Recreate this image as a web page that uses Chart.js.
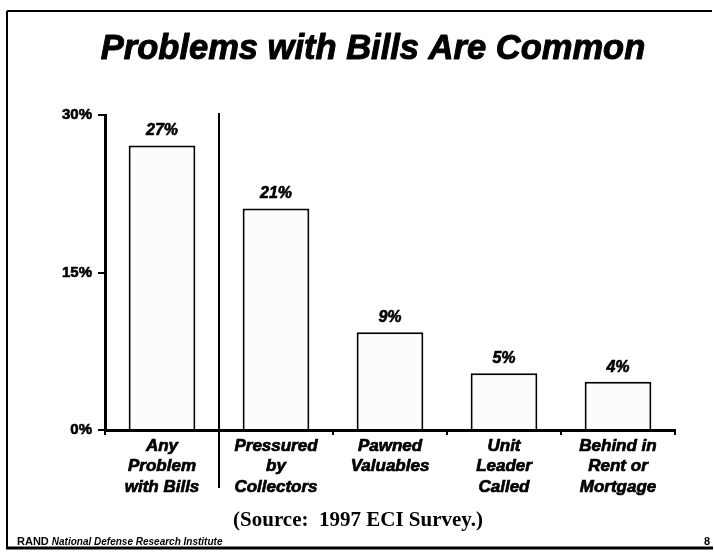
<!DOCTYPE html>
<html>
<head>
<meta charset="utf-8">
<script src="https://cdn.jsdelivr.net/npm/chart.js@4/dist/chart.umd.min.js"></script>
<style>
  html, body { margin: 0; padding: 0; background: #fff; }
  #wrap { position: relative; width: 714px; height: 556px; }
</style>
</head>
<body>
<div id="wrap"><canvas id="c" width="714" height="556"></canvas></div>
<script>
// ---- data ----
const categories = [
  ["Any", "Problem", "with Bills"],
  ["Pressured", "by", "Collectors"],
  ["Pawned", "Valuables"],
  ["Unit", "Leader", "Called"],
  ["Behind in", "Rent or", "Mortgage"]
];
const values = [27.1, 21.1, 9.3, 5.4, 4.6];
const valueLabels = ["27%", "21%", "9%", "5%", "4%"];
const yTickValues = [0, 15, 30];
const titleText = "Problems with Bills Are Common";
const sourceText = "(Source:  1997 ECI Survey.)";
const footerBold = "RAND";
const footerItalic = "National Defense Research Institute";
const pageNumber = "8";

const SANS = "'Liberation Sans', Arial, Helvetica, sans-serif";
const SERIF = "'Liberation Serif', 'Times New Roman', serif";

function heavyText(ctx, text, x, y, sw) {
  ctx.lineWidth = sw;
  ctx.lineJoin = 'round';
  ctx.strokeStyle = '#000';
  ctx.strokeText(text, x, y);
  ctx.fillText(text, x, y);
}

const decorPlugin = {
  id: 'decor',
  afterDraw(chart) {
    const ctx = chart.ctx;
    const xs = chart.scales.x;
    const area = chart.chartArea;
    ctx.save();
    // frame
    ctx.strokeStyle = '#000';
    ctx.lineWidth = 2;
    ctx.beginPath();
    ctx.moveTo(7, 11); ctx.lineTo(712, 11);
    ctx.moveTo(7, 11); ctx.lineTo(7, 548);
    ctx.stroke();
    ctx.lineWidth = 3;
    ctx.beginPath();
    ctx.moveTo(6, 548); ctx.lineTo(713, 548);
    ctx.stroke();
    // divider between first and other categories
    const dx = (xs.getPixelForValue(0) + xs.getPixelForValue(1)) / 2;
    ctx.lineWidth = 2;
    ctx.beginPath();
    ctx.moveTo(dx, area.top - 2);
    ctx.lineTo(dx, 488);
    ctx.stroke();
    // value labels
    const meta = chart.getDatasetMeta(0);
    ctx.fillStyle = '#000';
    ctx.textAlign = 'center';
    ctx.textBaseline = 'alphabetic';
    ctx.font = `italic bold 16px ${SANS}`;
    meta.data.forEach((bar, i) => {
      heavyText(ctx, valueLabels[i], bar.x, bar.y - 10, 0.6);
    });
    // title
    ctx.font = `italic bold 34.5px ${SANS}`;
    heavyText(ctx, titleText, 373, 59, 1.0);
    // source
    ctx.font = `bold 21px ${SERIF}`;
    ctx.fillText(sourceText, 358, 526);
    // footer
    ctx.textAlign = 'left';
    ctx.font = `bold 11px ${SANS}`;
    ctx.fillText(footerBold, 17, 545);
    const w = ctx.measureText(footerBold + ' ').width;
    ctx.font = `italic bold 10px ${SANS}`;
    ctx.fillText(footerItalic, 17 + w, 545);
    ctx.textAlign = 'right';
    ctx.font = `bold 11px ${SANS}`;
    ctx.fillText(pageNumber, 710, 545);
    ctx.restore();
  }
};

new Chart(document.getElementById('c'), {
  type: 'bar',
  data: {
    labels: categories,
    datasets: [{
      data: values,
      backgroundColor: '#fcfcfc',
      borderColor: '#000',
      borderWidth: 2,
      borderSkipped: 'bottom',
      barPercentage: 0.585,
      categoryPercentage: 1.0
    }]
  },
  options: {
    responsive: false,
    animation: false,
    devicePixelRatio: 1,
    layout: { padding: { left: 45, right: 39, top: 115, bottom: 36 } },
    plugins: {
      legend: { display: false },
      tooltip: { enabled: false },
      title: { display: false }
    },
    scales: {
      x: {
        afterFit(scale) { scale.height = 90; },
        grid: {
          display: true,
          offset: true,
          drawOnChartArea: false,
          drawTicks: true,
          tickLength: 5,
          color: '#000',
          lineWidth: 2
        },
        border: { display: true, color: '#000', width: 3 },
        ticks: {
          color: '#000',
          padding: 1,
          maxRotation: 0,
          autoSkip: false,
          textStrokeColor: '#000',
          textStrokeWidth: 0.7,
          font: { family: SANS, size: 17, weight: 'bold', style: 'italic', lineHeight: 1.2 }
        }
      },
      y: {
        min: 0,
        max: 30,
        afterFit(scale) { scale.width = 60; },
        afterBuildTicks(scale) { scale.ticks = yTickValues.map(v => ({ value: v })); },
        grid: {
          display: true,
          drawOnChartArea: false,
          drawTicks: true,
          tickLength: 7,
          color: '#000',
          lineWidth: 2
        },
        border: { display: true, color: '#000', width: 3 },
        ticks: {
          color: '#000',
          padding: 6,
          textStrokeColor: '#000',
          textStrokeWidth: 0.6,
          callback: v => v + '%',
          font: { family: SANS, size: 15, weight: 'bold' }
        }
      }
    }
  },
  plugins: [decorPlugin]
});
</script>
</body>
</html>
